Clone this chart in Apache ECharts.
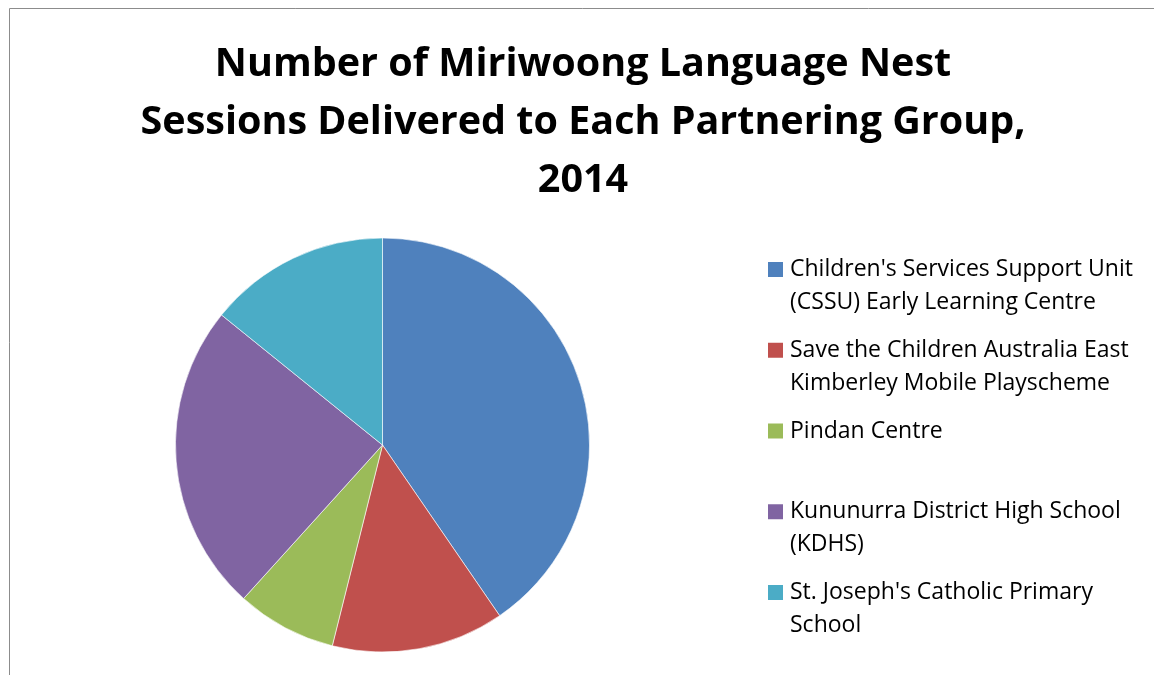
<!DOCTYPE html>
<html>
<head>
<meta charset="utf-8">
<script src="https://cdn.jsdelivr.net/npm/echarts@6/dist/echarts.min.js"></script>
<style>
  html, body { margin: 0; padding: 0; background: #fff; }
  #chart { width: 1154px; height: 675px; }
</style>
</head>
<body>
<div id="chart"></div>
<script>
// partnering groups and sessions delivered
var groups = [
  "Children's Services Support Unit (CSSU) Early Learning Centre",
  'Save the Children Australia East Kimberley Mobile Playscheme',
  'Pindan Centre',
  'Kununurra District High School (KDHS)',
  "St. Joseph's Catholic Primary School"
]
var sessions = [57, 19, 11, 34, 20]
// legend text as wrapped in the original
var legendLabels = [
  "Children's Services Support Unit\n(CSSU) Early Learning Centre",
  'Save the Children Australia East\nKimberley Mobile Playscheme',
  'Pindan Centre\n ',
  'Kununurra District High School\n(KDHS)',
  "St. Joseph's Catholic Primary\nSchool"
]
var colors = ['#4F81BD', '#C0504D', '#9BBB59', '#8064A2', '#4BACC6']

const myChart = echarts.init(document.getElementById('chart'))

var option = {
  color: colors,
  title: {
    text: 'Number of Miriwoong Language Nest\nSessions Delivered to Each Partnering Group,\n2014',
    left: 578,
    top: 31,
    textAlign: 'center',
    textStyle: {
      fontFamily: 'Open Sans',
      fontWeight: 'bold',
      fontSize: 39.5,
      lineHeight: 58,
      color: '#000'
    }
  },
  legend: {
    orient: 'vertical',
    left: 768,
    top: 252,
    padding: 0,
    itemGap: 12.75,
    itemWidth: 15,
    itemHeight: 66,
    // square sits on the first text line
    icon: 'path://M0,0L0,0M0,9L15,9L15,24L0,24ZM15,66L15,66',
    itemStyle: { borderWidth: 0 },
    formatter: function (name) {
      return legendLabels[groups.indexOf(name)]
    },
    textStyle: {
      fontFamily: 'Open Sans',
      fontSize: 23,
      lineHeight: 33,
      color: '#000',
      padding: [2, 0, 0, 2]
    },
    data: groups
  },
  graphic: [
    {
      type: 'rect',
      shape: { x: 9.5, y: 8.5, width: 1200, height: 700 },
      style: { fill: 'none', stroke: '#8c8c8c', lineWidth: 1 },
      silent: true
    }
  ],
  series: [
    {
      type: 'pie',
      center: [382.5, 445],
      radius: 207,
      startAngle: 90,
      label: { show: false },
      labelLine: { show: false },
      itemStyle: { borderColor: '#fff', borderWidth: 0.6 },
      emphasis: { disabled: true },
      data: groups.map(function (g, i) {
        return { name: g, value: sessions[i] }
      })
    }
  ]
}
myChart.setOption(option)
</script>
</body>
</html>
